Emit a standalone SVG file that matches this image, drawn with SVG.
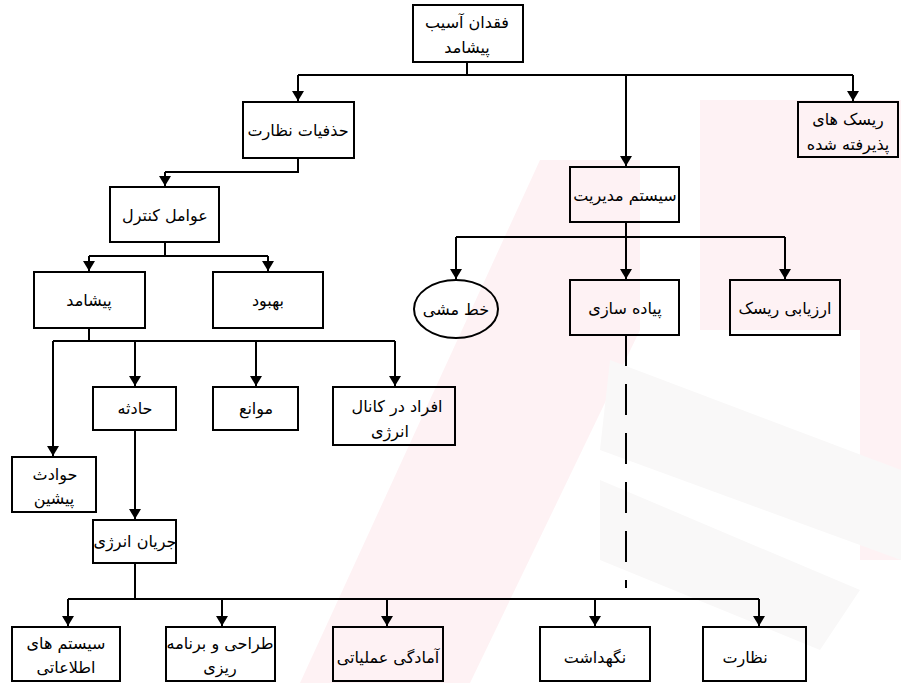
<svg xmlns="http://www.w3.org/2000/svg" width="901" height="683" viewBox="0 0 901 683">
  <style>
    .box { fill: none; stroke: #000; stroke-width: 2; }
    .wire { fill: none; stroke: #000; stroke-width: 2; }
    .arrow { marker-end: url(#head); }
    .dash { stroke-dasharray: 31 18; }
    text { font-family: "DejaVu Sans", "Noto Sans", sans-serif; font-size: 16px; fill: #000; text-anchor: middle; }
    .wm { fill: #fef2f4; }
    .wg { fill: #f9f8f8; }
  </style>
  <defs>
    <marker id="head" viewBox="0 0 10 12" refX="10" refY="6" markerWidth="10" markerHeight="12" markerUnits="userSpaceOnUse" orient="auto">
      <path d="M0,0 L10,6 L0,12 Z" fill="#000"/>
    </marker>
  </defs>

  <rect width="901" height="683" fill="#fff"/>

  <!-- faint background emblem -->
  <g id="emblem">
    <polygon class="wm" points="300,683 540,160 640,160 640,330 470,683"/>
    <polygon class="wm" points="700,100 901,100 901,560 860,560 860,330 700,330"/>
    <polygon class="wg" points="610,360 901,470 901,560 600,450"/>
    <polygon class="wg" points="600,480 860,590 820,650 600,560"/>
  </g>

  <g id="connectors">
    <!-- root fan-out -->
    <path class="wire" d="M467,62 V75"/>
    <path class="wire" d="M298,75 H853"/>
    <path class="wire arrow" d="M298,75 V101"/>
    <path class="wire arrow" d="M626,75 V166"/>
    <path class="wire arrow" d="M853,75 V101"/>
    <!-- management system -->
    <path class="wire" d="M626,222 V237"/>
    <path class="wire" d="M456,237 H785"/>
    <path class="wire arrow" d="M456,237 V279"/>
    <path class="wire arrow" d="M626,237 V279"/>
    <path class="wire arrow" d="M785,237 V279"/>
    <path class="wire dash" d="M626,335 V588"/>
    <!-- supervision gaps -->
    <path class="wire" d="M298,158 V172 H165"/>
    <path class="wire arrow" d="M165,172 V186"/>
    <path class="wire" d="M165,242 V256"/>
    <path class="wire" d="M89,256 H268"/>
    <path class="wire arrow" d="M89,256 V271"/>
    <path class="wire arrow" d="M268,256 V271"/>
    <!-- incident -->
    <path class="wire" d="M89,328 V341"/>
    <path class="wire" d="M53,341 H395"/>
    <path class="wire arrow" d="M53,341 V456"/>
    <path class="wire arrow" d="M135,341 V386"/>
    <path class="wire arrow" d="M256,341 V386"/>
    <path class="wire arrow" d="M395,341 V386"/>
    <path class="wire arrow" d="M135,430 V519"/>
    <!-- energy flow -->
    <path class="wire" d="M135,563 V599"/>
    <path class="wire" d="M68,599 H759"/>
    <path class="wire arrow" d="M68,599 V626"/>
    <path class="wire arrow" d="M222,599 V626"/>
    <path class="wire arrow" d="M387,599 V626"/>
    <path class="wire arrow" d="M595,599 V626"/>
    <path class="wire arrow" d="M759,599 V626"/>
  </g>

  <g id="root">
    <rect class="box" x="413" y="5" width="110" height="57"/>
    <text x="467" y="28">فقدان آسیب</text>
    <text x="467" y="53">پیشامد</text>
  </g>
  <g id="supervision-gaps">
    <rect class="box" x="243" y="102" width="111" height="56"/>
    <text x="298" y="136">حذفیات نظارت</text>
  </g>
  <g id="accepted-risks">
    <rect class="box" x="798" y="102" width="100" height="55"/>
    <text x="848" y="125">ریسک های</text>
    <text x="848" y="150">پذیرفته شده</text>
  </g>
  <g id="management-system">
    <rect class="box" x="570" y="167" width="109" height="55"/>
    <text x="625" y="201">سیستم مدیریت</text>
  </g>
  <g id="policy">
    <ellipse class="box" cx="456" cy="309" rx="42" ry="29"/>
    <text x="456" y="315">خط مشی</text>
  </g>
  <g id="implementation">
    <rect class="box" x="570" y="280" width="109" height="55"/>
    <text x="625" y="314">پیاده سازی</text>
  </g>
  <g id="risk-assessment">
    <rect class="box" x="730" y="280" width="110" height="55"/>
    <text x="785" y="314">ارزیابی ریسک</text>
  </g>
  <g id="control-factors">
    <rect class="box" x="110" y="187" width="109" height="55"/>
    <text x="165" y="221">عوامل کنترل</text>
  </g>
  <g id="incident">
    <rect class="box" x="34" y="272" width="111" height="56"/>
    <text x="89" y="306">پیشامد</text>
  </g>
  <g id="improvement">
    <rect class="box" x="213" y="272" width="110" height="56"/>
    <text x="268" y="306">بهبود</text>
  </g>
  <g id="accident">
    <rect class="box" x="93" y="387" width="83" height="43"/>
    <text x="135" y="414">حادثه</text>
  </g>
  <g id="barriers">
    <rect class="box" x="213" y="387" width="85" height="43"/>
    <text x="256" y="414">موانع</text>
  </g>
  <g id="people-in-channel">
    <rect class="box" x="333" y="387" width="122" height="58"/>
    <text x="397" y="412">افراد در کانال</text>
    <text x="390" y="437">انرژی</text>
  </g>
  <g id="precursor-events">
    <rect class="box" x="12" y="457" width="84" height="55"/>
    <text x="55" y="480">حوادث</text>
    <text x="54" y="504">پیشین</text>
  </g>
  <g id="energy-flow">
    <rect class="box" x="93" y="520" width="83" height="43"/>
    <text x="135" y="547">جریان انرژی</text>
  </g>
  <g id="information-systems">
    <rect class="box" x="12" y="627" width="108" height="54"/>
    <text x="66" y="649">سیستم های</text>
    <text x="66" y="673">اطلاعاتی</text>
  </g>
  <g id="planning">
    <rect class="box" x="166" y="627" width="109" height="54"/>
    <text x="220" y="649">طراحی و برنامه</text>
    <text x="220" y="673">ریزی</text>
  </g>
  <g id="readiness">
    <rect class="box" x="333" y="627" width="110" height="54"/>
    <text x="388" y="663">آمادگی عملیاتی</text>
  </g>
  <g id="maintenance">
    <rect class="box" x="540" y="627" width="110" height="54"/>
    <text x="595" y="663">نگهداشت</text>
  </g>
  <g id="monitoring">
    <rect class="box" x="703" y="627" width="103" height="54"/>
    <text x="745" y="663">نظارت</text>
  </g>
</svg>
